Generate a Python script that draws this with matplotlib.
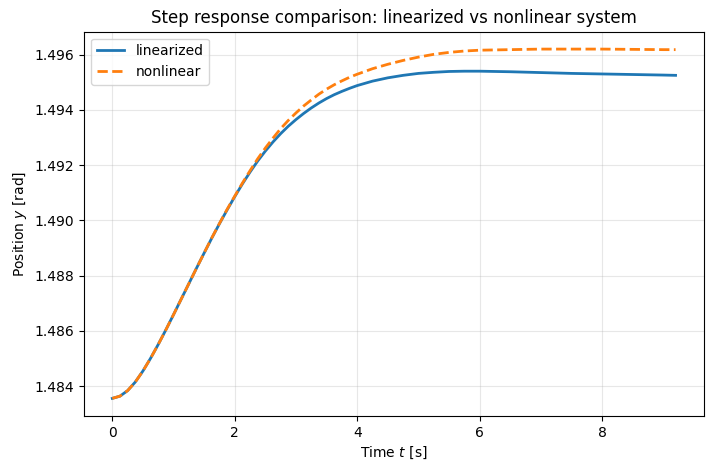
import numpy as np
import matplotlib
matplotlib.use("Agg")
import matplotlib.pyplot as plt

t = [0.0, 0.125, 0.25, 0.375, 0.5, 0.625, 0.75, 0.875, 1.0, 1.125, 1.25,
     1.375, 1.5, 1.625, 1.75, 1.875, 2.0, 2.125, 2.25, 2.375, 2.5, 2.625,
     2.75, 2.875, 3.0, 3.125, 3.25, 3.375, 3.5, 3.625, 3.75, 3.875, 4.0,
     4.25, 4.5, 4.75, 5.0, 5.25, 5.5, 5.75, 6.0, 6.5, 7.0, 7.5, 8.0, 8.5,
     9.0, 9.2]

y_linearized = [1.48356, 1.48364, 1.48384, 1.48415, 1.48455, 1.48501, 1.48551,
                1.48604, 1.48659, 1.48715, 1.48771, 1.48827, 1.48882, 1.48936,
                1.48988, 1.49038, 1.49086, 1.49132, 1.49175, 1.49215, 1.49251,
                1.49284, 1.49314, 1.49341, 1.49365, 1.49387, 1.49407, 1.49425,
                1.49441, 1.49455, 1.49467, 1.49478, 1.49488, 1.49504, 1.49516,
                1.49525, 1.49532, 1.49536, 1.49539, 1.49540, 1.49540, 1.49538,
                1.49535, 1.49532, 1.49530, 1.49528, 1.49526, 1.49525]

y_nonlinear = [1.48356, 1.48364, 1.48384, 1.48415, 1.48455, 1.48501, 1.48551,
               1.48604, 1.48659, 1.48715, 1.48771, 1.48827, 1.48882, 1.48937,
               1.48989, 1.49040, 1.49088, 1.49135, 1.49180, 1.49223, 1.49262,
               1.49298, 1.49332, 1.49362, 1.49389, 1.49414, 1.49436, 1.49457,
               1.49475, 1.49491, 1.49505, 1.49518, 1.49529, 1.49549, 1.49565,
               1.49579, 1.49591, 1.49601, 1.49608, 1.49613, 1.49616, 1.49618,
               1.49620, 1.49620, 1.49620, 1.49619, 1.49618, 1.49618]

fig = plt.figure(figsize=(7.13, 4.72), dpi=100)
ax = fig.add_axes([0.118, 0.119, 0.869, 0.814])
ax.plot(t, y_linearized, color="#1f77b4", lw=2, label="linearized")
ax.plot(t, y_nonlinear, color="#ff7f0e", lw=2, ls="--", label="nonlinear")
ax.set_xlabel("Time $t$ [s]")
ax.set_ylabel("Position $y$ [rad]")
ax.set_title("Step response comparison: linearized vs nonlinear system")
ax.grid(True, alpha=0.3)
ax.legend(loc="upper left")
fig.savefig("out.png", dpi=100)
